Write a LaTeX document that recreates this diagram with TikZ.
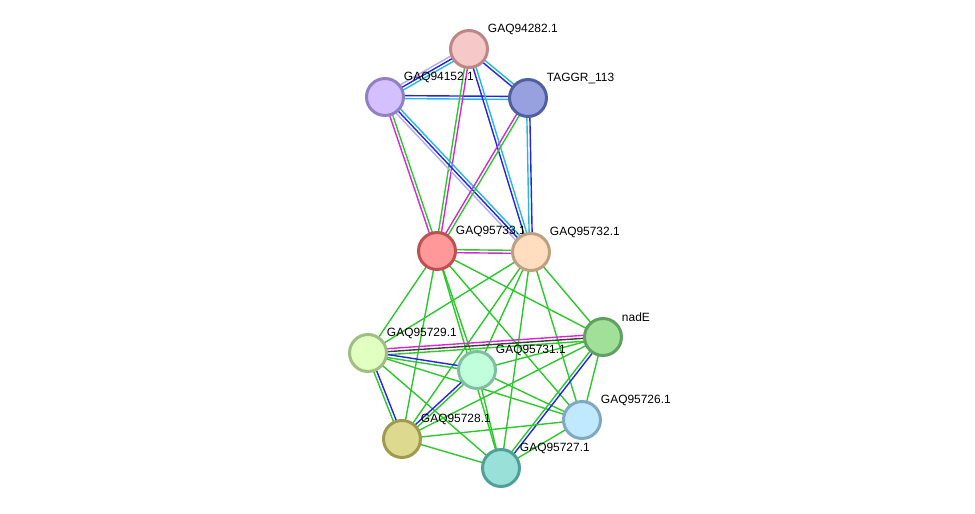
\documentclass[tikz,border=0pt]{standalone}
\usepackage{fontspec}
\setmainfont{Liberation Sans}
\usetikzlibrary{calc,backgrounds}

% evidence colours
\definecolor{grn}{RGB}{45,200,45}
\definecolor{mag}{RGB}{215,40,215}
\definecolor{cya}{RGB}{40,185,215}
\definecolor{blu}{RGB}{35,35,240}
\definecolor{lav}{RGB}{175,175,240}
\definecolor{blk}{RGB}{60,60,60}

% one line per evidence colour, side by side
\newcommand{\protlink}[3]{%
  \gdef\nlines{0}%
  \foreach \c in {#3}{\xdef\nlines{\the\numexpr\nlines+1\relax}}%
  \foreach \c [count=\k] in {#3}{%
    \pgfmathsetmacro\off{(\k-(\nlines+1)/2)*0.06}%
    \draw[edge, \c] ($(#1)!\off cm!90:(#2)$) -- ($(#2)!\off cm!-90:(#1)$);
  }%
}

\begin{document}
\begin{tikzpicture}[
    x=0.02cm, y=-0.02cm,
    prot/.style={
        circle,
        minimum size=0.74cm,
        inner sep=0pt,
        line width=1.7pt
    },
    lbl/.style={
        anchor=west,
        inner sep=0pt,
        xshift=0.9mm,
        yshift=1.1mm,
        font=\fontsize{6.8}{8}\selectfont
    },
    edge/.style={
        line width=0.8pt
    }
]
    \useasboundingbox (0,0) rectangle (975,514);

    % --- Proteins ---

    % top group
    \node [prot, fill={rgb,255:red,246;green,200;blue,200}, draw={rgb,255:red,190;green,135;blue,135},
        label={[lbl]45:GAQ94282.1}] (g94282) at (469,49) {};
    \node [prot, fill={rgb,255:red,212;green,192;blue,255}, draw={rgb,255:red,145;green,128;blue,195},
        label={[lbl]45:GAQ94152.1}] (g94152) at (385,97) {};
    \node [prot, fill={rgb,255:red,152;green,160;blue,224}, draw={rgb,255:red,80;green,95;blue,160},
        label={[lbl]45:TAGGR\_113}] (taggr) at (528,98) {};

    % middle pair
    \node [prot, fill={rgb,255:red,255;green,152;blue,152}, draw={rgb,255:red,190;green,80;blue,80},
        label={[lbl]45:GAQ95733.1}] (g95733) at (437,251) {};
    \node [prot, fill={rgb,255:red,255;green,221;blue,190}, draw={rgb,255:red,190;green,160;blue,128},
        label={[lbl]45:GAQ95732.1}] (g95732) at (531,252) {};

    % bottom group
    \node [prot, fill={rgb,255:red,160;green,224;blue,152}, draw={rgb,255:red,96;green,160;blue,96},
        label={[lbl]45:nadE}] (nade) at (603,337) {};
    \node [prot, fill={rgb,255:red,224;green,255;blue,192}, draw={rgb,255:red,160;green,190;blue,128},
        label={[lbl]45:GAQ95729.1}] (g95729) at (368,353) {};
    \node [prot, fill={rgb,255:red,192;green,255;blue,220}, draw={rgb,255:red,128;green,190;blue,160},
        label={[lbl]45:GAQ95731.1}] (g95731) at (477,370) {};
    \node [prot, fill={rgb,255:red,192;green,232;blue,255}, draw={rgb,255:red,128;green,168;blue,192},
        label={[lbl]45:GAQ95726.1}] (g95726) at (582,420) {};
    \node [prot, fill={rgb,255:red,221;green,218;blue,144}, draw={rgb,255:red,160;green,154;blue,80},
        label={[lbl]45:GAQ95728.1}] (g95728) at (402,439) {};
    \node [prot, fill={rgb,255:red,152;green,224;blue,216}, draw={rgb,255:red,80;green,160;blue,152},
        label={[lbl]45:GAQ95727.1}] (g95727) at (501,468) {};

    % --- Links ---
    \begin{scope}[on background layer]
        % top group
        \protlink{g94282}{g94152}{lav,blu,cya}
        \protlink{g94282}{taggr}{blu,cya}
        \protlink{g94152}{taggr}{cya,blu}
        \protlink{g94282}{g95733}{grn,mag}
        \protlink{g94282}{g95732}{blu,cya}
        \protlink{g94152}{g95733}{mag,grn}
        \protlink{g94152}{g95732}{lav,blu,cya}
        \protlink{taggr}{g95733}{mag,grn}
        \protlink{taggr}{g95732}{cya,blu}
        \protlink{g95733}{g95732}{mag,grn}

        % middle pair to bottom group
        \foreach \b in {g95729,g95731,g95728,g95727,g95726,nade} {
            \protlink{g95733}{\b}{grn}
            \protlink{g95732}{\b}{grn}
        }

        % bottom group
        \protlink{g95729}{nade}{grn,blk,mag}
        \protlink{g95729}{g95731}{grn,blu}
        \protlink{g95729}{g95728}{grn,blu}
        \protlink{g95729}{g95727}{grn}
        \protlink{g95729}{g95726}{grn}
        \protlink{g95731}{nade}{grn}
        \protlink{g95731}{g95728}{blu,grn}
        \protlink{g95731}{g95727}{grn}
        \protlink{g95731}{g95726}{grn}
        \protlink{nade}{g95728}{grn}
        \protlink{nade}{g95727}{grn,blu}
        \protlink{nade}{g95726}{grn}
        \protlink{g95728}{g95727}{grn}
        \protlink{g95728}{g95726}{grn}
        \protlink{g95727}{g95726}{grn}
    \end{scope}

\end{tikzpicture}
\end{document}
